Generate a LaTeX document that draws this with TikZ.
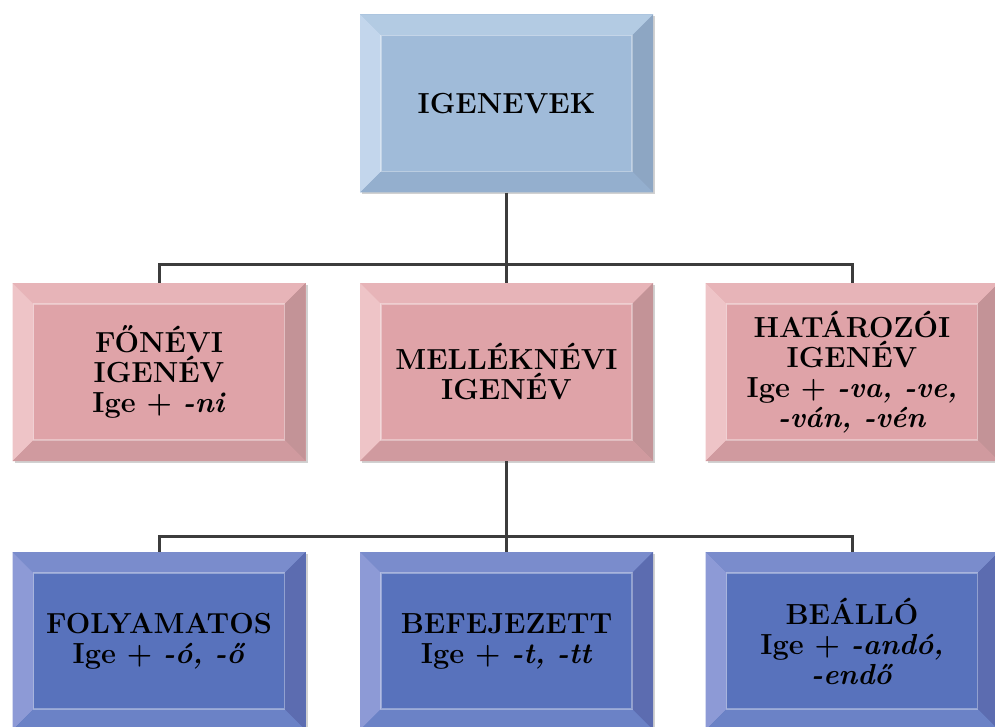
\documentclass[tikz,border=0pt]{standalone}
\usepackage{fontspec}
\usetikzlibrary{shadows}
\definecolor{bF}{HTML}{A0BBD9}
\definecolor{bT}{HTML}{B3CBE3}
\definecolor{bL}{HTML}{C3D6EC}
\definecolor{bR}{HTML}{8DA6C3}
\definecolor{bB}{HTML}{94AFCE}
\definecolor{pF}{HTML}{DFA3A8}
\definecolor{pT}{HTML}{E7B4B8}
\definecolor{pL}{HTML}{EEC4C7}
\definecolor{pR}{HTML}{C39397}
\definecolor{pB}{HTML}{D09A9F}
\definecolor{dF}{HTML}{5872BC}
\definecolor{dT}{HTML}{7A8CCC}
\definecolor{dL}{HTML}{8D9AD6}
\definecolor{dR}{HTML}{5C6CB0}
\definecolor{dB}{HTML}{6B82C6}
\definecolor{lineC}{HTML}{3C3C3C}
\tikzset{
  bevel/.style n args={5}{draw=none, fill=#1, minimum width=293pt, minimum height=178pt,
    inner sep=0pt, align=center, font=\fontsize{29}{30}\selectfont\bfseries,
    drop shadow={shadow xshift=2pt, shadow yshift=-2pt, opacity=0.18, fill=black},
    path picture={
      \path (path picture bounding box.north west) coordinate (pnw)
            (path picture bounding box.south east) coordinate (pse)
            (path picture bounding box.north east) coordinate (pne)
            (path picture bounding box.south west) coordinate (psw);
      \fill[#2] (pnw) -- (pne) -- ([shift={(-21pt,-21pt)}]pne) -- ([shift={(21pt,-21pt)}]pnw) -- cycle;
      \fill[#3] (pnw) -- (psw) -- ([shift={(21pt,21pt)}]psw) -- ([shift={(21pt,-21pt)}]pnw) -- cycle;
      \fill[#4] (pne) -- (pse) -- ([shift={(-21pt,21pt)}]pse) -- ([shift={(-21pt,-21pt)}]pne) -- cycle;
      \fill[#5] (psw) -- (pse) -- ([shift={(-21pt,21pt)}]pse) -- ([shift={(21pt,21pt)}]psw) -- cycle;
      \draw[white, opacity=0.35, line width=1.2pt] ([shift={(21pt,21pt)}]psw) rectangle ([shift={(-21pt,-21pt)}]pne);
    }},
  topbox/.style={bevel={bF}{bT}{bL}{bR}{bB}},
  midbox/.style={bevel={pF}{pT}{pL}{pR}{pB}},
  lowbox/.style={bevel={dF}{dT}{dL}{dR}{dB}},
  conn/.style={draw=lineC, line width=3pt},
}
\begin{document}
\begin{tikzpicture}[x=1pt,y=-1pt]
\useasboundingbox[fill=white] (0,0) rectangle (995,727);
\coordinate (j1) at (506.5,264);
\coordinate (j2) at (506.5,536);
\node[topbox] (igen) at (506.5,103.5) {IGENEVEK};
\node[midbox] (fon) at (159,372) {FŐNÉVI\\IGENÉV\\Ige + \textit{-ni}};
\node[midbox] (mell) at (506.5,372) {MELLÉKNÉVI\\IGENÉV};
\node[midbox] (hat) at (852,372) {HATÁROZÓI\\IGENÉV\\Ige + \textit{-va, -ve,}\\\textit{-ván, -vén}};
\node[lowbox] (foly) at (159,641) {FOLYAMATOS\\Ige + \textit{-ó, -ő}};
\node[lowbox] (befe) at (506.5,641) {BEFEJEZETT\\Ige + \textit{-t, -tt}};
\node[lowbox] (beal) at (852,641) {BEÁLLÓ\\Ige + \textit{-andó,}\\\textit{-endő}};
\draw[conn] (igen.south) -- (j1);
\draw[conn] (fon.north) |- (j1) -| (hat.north);
\draw[conn] (j1) -- (mell.north);
\draw[conn] (mell.south) -- (j2);
\draw[conn] (foly.north) |- (j2) -| (beal.north);
\draw[conn] (j2) -- (befe.north);
\end{tikzpicture}
\end{document}
